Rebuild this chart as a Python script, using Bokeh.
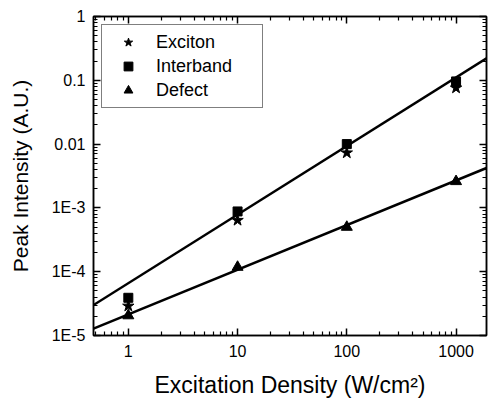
import numpy as np
from bokeh.plotting import figure
from bokeh.models import (FixedTicker, LogAxis, CustomJSTickFormatter, Legend, LegendItem)
from bokeh.embed import file_html
from bokeh.resources import INLINE

# data
density = [1, 10, 100, 1000]
exciton = [2.9e-5, 6.4e-4, 7.3e-3, 7.6e-2]
interband = [3.9e-5, 8.8e-4, 1.0e-2, 9.6e-2]
defect = [2.05e-5, 1.18e-4, 5.0e-4, 2.6e-3]

# fitted power-law lines: log10(I) = slope*log10(x) + intercept
fit_slopes = [1.075, 0.70]
fit_intercepts = [-4.18, -4.67]

x_range = (0.48, 1900)
y_range = (1e-5, 1)

FONT = "Liberation Sans"

p = figure(width=490, height=402, x_axis_type="log", y_axis_type="log",
           x_range=x_range, y_range=y_range, output_backend="svg",
           toolbar_location=None, min_border_left=93, min_border_right=2,
           min_border_top=16, min_border_bottom=67)
p.grid.visible = False
p.outline_line_color = "black"
p.outline_line_width = 1.5
p.background_fill_color = "white"
p.border_fill_color = "white"

xmaj = [10.0 ** k for k in range(0, 4)]
xmin = [m * 10.0 ** k for k in range(-1, 4) for m in range(2, 10)]
ymaj = [10.0 ** k for k in range(-5, 1)]
ymin = [m * 10.0 ** k for k in range(-5, 0) for m in range(2, 10)]
xt = FixedTicker(ticks=xmaj, minor_ticks=xmin)
yt = FixedTicker(ticks=ymaj, minor_ticks=ymin)

yfmt = CustomJSTickFormatter(code="""
const e = Math.round(Math.log10(tick));
if (e >= 0) return "1";
if (e == -1) return "0.1";
if (e == -2) return "0.01";
return "1E" + e;
""")
xfmt = CustomJSTickFormatter(code="return String(Math.round(tick));")
blank = CustomJSTickFormatter(code="return ' ';")

def style(ax, labels=True):
    ax.axis_line_color = "black"
    ax.axis_line_width = 1.5
    ax.major_tick_in = 7
    ax.major_tick_out = 0
    ax.minor_tick_in = 4
    ax.minor_tick_out = 0
    ax.major_tick_line_width = 1.5
    ax.minor_tick_line_width = 1.2
    ax.major_tick_line_color = "black"
    ax.minor_tick_line_color = "black"
    if labels:
        ax.major_label_text_font = FONT
        ax.major_label_text_font_size = "16px"
        ax.major_label_text_color = "black"
        ax.axis_label_text_font = FONT
        ax.axis_label_text_font_style = "normal"
        ax.axis_label_text_color = "black"
    else:
        ax.formatter = blank
        ax.major_label_text_font_size = "2px"
        ax.major_label_standoff = 0

p.xaxis.ticker = xt
p.yaxis.ticker = yt
p.xaxis.formatter = xfmt
p.yaxis.formatter = yfmt
for ax in p.xaxis + p.yaxis:
    style(ax)
p.xaxis.axis_label = "Excitation Density (W/cm²)"
p.yaxis.axis_label = "Peak Intensity (A.U.)"
p.xaxis.axis_label_text_font_size = "23px"
p.yaxis.axis_label_text_font_size = "21px"
p.xaxis.major_label_standoff = 9
p.yaxis.major_label_standoff = 8
p.xaxis.axis_label_standoff = 12
p.yaxis.axis_label_standoff = 17

top = LogAxis(ticker=xt)
right = LogAxis(ticker=yt)
style(top, False)
style(right, False)
p.add_layout(top, "above")
p.add_layout(right, "right")

# fit lines
lx = np.array(x_range, dtype=float)
for s, b in zip(fit_slopes, fit_intercepts):
    p.line(lx, 10 ** (s * np.log10(lx) + b), line_color="black", line_width=2.5)

r1 = p.scatter(density, exciton, marker="star", size=12, color="black")
r2 = p.scatter(density, interband, marker="square", size=9, color="black")
r3 = p.scatter(density, defect, marker="triangle", size=11, color="black")

legend = Legend(items=[LegendItem(label="Exciton", renderers=[r1]),
                       LegendItem(label="Interband", renderers=[r2]),
                       LegendItem(label="Defect", renderers=[r3])],
                location="top_left")
legend.label_text_font = FONT
legend.label_text_font_size = "18px"
legend.label_text_color = "black"
legend.border_line_color = "black"
legend.border_line_width = 1.5
legend.margin = 8
legend.padding = 6
legend.spacing = 2
legend.glyph_width = 40
legend.glyph_height = 22
legend.label_height = 22
legend.label_width = 100
legend.label_standoff = 8
p.add_layout(legend)

open("out.html", "w").write(file_html(p, INLINE))
